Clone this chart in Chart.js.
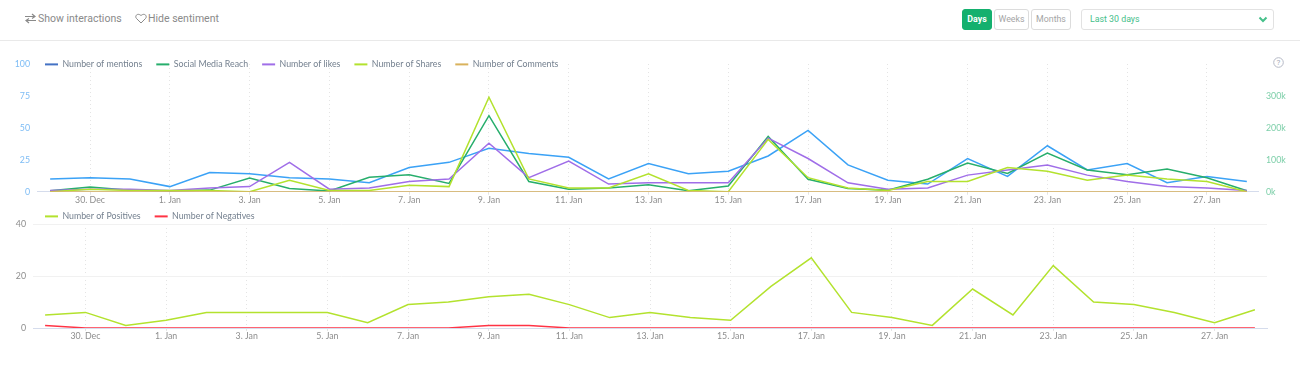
<!DOCTYPE html>
<html>
<head>
<meta charset="utf-8">
<title>Timeline</title>
<script src="https://cdn.jsdelivr.net/npm/chart.js@4/dist/chart.umd.min.js"></script>
<style>
    html, body { margin: 0; padding: 0; background: #fff; }
    body { width: 1300px; height: 367px; position: relative; overflow: hidden; font-family: Roboto, sans-serif; }
    .topo { position: absolute; left: 0; top: 0; width: 1300px; height: 40px; border-bottom: 1px solid #e9e9e9; }
    .acao { position: absolute; top: 12px; font-size: 10.5px; line-height: 14px; color: #8a8a8a; white-space: nowrap; }
    .acao svg { position: absolute; top: 1px; }
    .botao { position: absolute; top: 9px; height: 19px; line-height: 19px; border: 1px solid #dcdcdc; border-radius: 3px;
        font-size: 8.8px; text-align: center; color: #a5a5a5; }
    .botao.ativo { background: #14b06e; border-color: #14b06e; color: #fff; font-weight: bold; }
    .periodo { position: absolute; left: 1081px; top: 9px; width: 191px; height: 19px; line-height: 19px; border: 1px solid #e2e2e2;
        border-radius: 3px; font-size: 8.8px; color: #45c08a; }
    .periodo span { margin-left: 8px; }
    .periodo svg { position: absolute; right: 5px; top: 6px; }
    .ajuda { position: absolute; left: 1273px; top: 57px; }
    canvas { position: absolute; left: 0; }
    #graficoTopo { top: 40px; }
    #graficoBase { top: 205px; }
</style>
</head>
<body>
<div class="topo">
    <div class="acao" style="left:38px">
        <svg style="left:-13px" width="11" height="11" viewBox="0 0 11 11" fill="none" stroke="#8a8a8a" stroke-width="1.2"><path d="M0 3.5h9M7 1l3 2.5-3 2M11 7.5H2M4 5.5l-3 2 3 2.5"/></svg>
        Show interactions
    </div>
    <div class="acao" style="left:148px">
        <svg style="left:-13px" width="12" height="11" viewBox="0 0 12 11" fill="none" stroke="#8a8a8a" stroke-width="1"><path d="M6 10L1.4 5.4C-.6 3 2.6-.6 6 2.6 9.4-.6 12.6 3 10.6 5.4z"/></svg>
        Hide sentiment
    </div>
    <div class="botao ativo" style="left:962px;width:28px">Days</div>
    <div class="botao" style="left:994px;width:33px">Weeks</div>
    <div class="botao" style="left:1031px;width:38px">Months</div>
    <div class="periodo"><span>Last 30 days</span>
        <svg width="10" height="7" viewBox="0 0 10 7" fill="none" stroke="#45c08a" stroke-width="2"><path d="M1.5 1.5L5 5l3.5-3.5"/></svg>
    </div>
</div>
<svg class="ajuda" width="11" height="11" viewBox="0 0 11 11"><circle cx="5.5" cy="5.5" r="4.8" fill="none" stroke="#b5b9c6"/><text x="5.5" y="8.3" font-size="8" font-family="Roboto" text-anchor="middle" fill="#a5a9b6">?</text></svg>
<canvas id="graficoTopo" width="1300" height="165"></canvas>
<canvas id="graficoBase" width="1300" height="136"></canvas>

<script>
//Dias do eixo X (um rótulo por ponto)
const dias = [
    '29. Dec', '30. Dec', '31. Dec', '1. Jan', '2. Jan', '3. Jan', '4. Jan', '5. Jan',
    '6. Jan', '7. Jan', '8. Jan', '9. Jan', '10. Jan', '11. Jan', '12. Jan', '13. Jan',
    '14. Jan', '15. Jan', '16. Jan', '17. Jan', '18. Jan', '19. Jan', '20. Jan', '21. Jan',
    '22. Jan', '23. Jan', '24. Jan', '25. Jan', '26. Jan', '27. Jan', '28. Jan'
];

//Gráfico de cima
const mencoes = [10, 11, 10, 4, 15, 14, 11, 10, 7, 19, 23, 34, 30, 27, 10, 22, 14, 16, 28, 48, 21, 9, 6, 26, 12, 36, 17, 22, 7, 12, 8];
const alcance = [3, 15, 5, 2, 5, 43, 10, 2, 45, 53, 26, 238, 32, 8, 12, 22, 3, 18, 173, 39, 10, 5, 39, 90, 57, 121, 68, 53, 71, 44, 3];
const curtidas = [1, 2, 2, 1, 3, 4, 23, 2, 3, 8, 10, 38, 11, 24, 6, 7, 7, 7, 42, 26, 7, 2, 3, 13, 17, 21, 13, 8, 4, 3, 1];
const compartilhamentos = [0, 2, 1, 1, 1, 0, 9, 1, 1, 5, 4, 74, 10, 3, 3, 14, 1, 0, 41, 11, 3, 1, 8, 8, 19, 16, 9, 13, 10, 8, 0];
const comentarios = [0, 0, 0, 0, 0, 0, 0, 0, 0, 0, 0, 0, 0, 0, 0, 0, 0, 0, 0, 0, 0, 0, 0, 0, 0, 0, 0, 0, 0, 0, 0];

//Gráfico de baixo
const positivos = [5, 6, 1, 3, 6, 6, 6, 6, 2, 9, 10, 12, 13, 9, 4, 6, 4, 3, 16, 27, 6, 4, 1, 15, 5, 24, 10, 9, 6, 2, 7];
const negativos = [1, 0, 0, 0, 0, 0, 0, 0, 0, 0, 0, 1, 1, 0, 0, 0, 0, 0, 0, 0, 0, 0, 0, 0, 0, 0, 0, 0, 0, 0, 0];

//Marcas dos eixos Y
const ticksEsquerda = [0, 25, 50, 75, 100];
const ticksDireita = [0, 100, 200, 300];
const ticksBase = [0, 20, 40];

const fonte = { family: 'Lato', size: 8.8 };

//Cada série nova fica por cima da anterior
function serie(label, valores, cor, corLegenda, ordem, eixo) {
    return {
        label: label,
        data: valores.map((y, i) => ({ x: i, y: y })),
        borderColor: cor,
        backgroundColor: corLegenda,
        borderWidth: 1.5,
        pointRadius: 0,
        tension: 0,
        clip: 0,
        order: ordem,
        yAxisID: eixo || 'y'
    };
}

//Só os índices ímpares recebem rótulo (30. Dec, 1. Jan...)
function eixoX(min, max) {
    return {
        type: 'linear',
        min: min,
        max: max,
        afterBuildTicks: function (eixo) {
            eixo.ticks = dias.map((d, i) => ({ value: i })).filter(t => t.value % 2 === 1);
        },
        afterFit: function (eixo) { eixo.height = 13; },
        ticks: {
            autoSkip: false,
            maxRotation: 0,
            padding: 0,
            color: '#8d8d8d',
            font: fonte,
            callback: function (valor) { return dias[valor]; }
        },
        border: { display: true, color: '#d5dcec', dash: [1, 3] },
        grid: { color: '#e4e4e4', tickLength: 3, lineWidth: 1 }
    };
}

//A legenda fica em cima da área do gráfico e não ocupa espaço no layout
function legendaFixa(esquerda, topo) {
    return {
        id: 'legendaFixa',
        beforeLayout: function (chart) {
            const legenda = chart.legend;
            const fitOriginal = legenda.fit;
            legenda.fit = function () {
                fitOriginal.call(legenda);
                legenda.height = 0;
            };
        },
        afterLayout: function (chart) {
            chart.legend.left = esquerda;
            chart.legend.top = topo;
            chart.legend.bottom = topo + 40;
        }
    };
}

function legenda() {
    return {
        position: 'top',
        align: 'start',
        labels: {
            boxWidth: 13,
            boxHeight: 2,
            padding: 14,
            color: '#74808f',
            font: fonte,
            sort: (a, b) => a.datasetIndex - b.datasetIndex,
            generateLabels: function (chart) {
                return Chart.defaults.plugins.legend.labels.generateLabels(chart).map(function (item) {
                    item.lineWidth = 0;
                    return item;
                });
            }
        }
    };
}

function largura(px) {
    return function (eixo) { eixo.width = px; };
}

const elementoTopo = document.getElementById('graficoTopo');
const elementoBase = document.getElementById('graficoBase');

const graficoTopo = new Chart(elementoTopo, {
    type: 'line',
    data: {
        datasets: [
            serie('Number of mentions', mencoes, '#3ba2f6', '#4472c4', 5),
            serie('Social Media Reach', alcance, '#27ae6c', '#27ae6c', 4, 'y1'),
            serie('Number of likes', curtidas, '#a06ee8', '#a06ee8', 3),
            serie('Number of Shares', compartilhamentos, '#b3e22e', '#b3e22e', 2),
            serie('Number of Comments', comentarios, '#d9b25c', '#d9b25c', 1)
        ]
    },
    options: {
        responsive: false,
        animation: false,
        layout: { padding: { top: 24, bottom: 0 } },
        plugins: { legend: legenda(), tooltip: { enabled: false } },
        scales: {
            x: eixoX(-0.33, 30.28),
            y: {
                min: 0,
                max: 100,
                afterBuildTicks: function (eixo) { eixo.ticks = ticksEsquerda.map(v => ({ value: v })); },
                afterFit: largura(37),
                ticks: { color: '#7dbcf5', font: fonte, padding: 7 },
                border: { display: false },
                grid: { display: false, drawTicks: false }
            },
            y1: {
                position: 'right',
                min: 0,
                max: 400,
                afterBuildTicks: function (eixo) { eixo.ticks = ticksDireita.map(v => ({ value: v })); },
                afterFit: largura(42),
                ticks: { color: '#7dcfa9', font: fonte, padding: 8, callback: v => v + 'k' },
                border: { display: false },
                grid: { display: false, drawTicks: false }
            }
        }
    },
    plugins: [legendaFixa(31, 6)]
});

const graficoBase = new Chart(elementoBase, {
    type: 'line',
    data: {
        datasets: [
            serie('Number of Positives', positivos, '#b3e22e', '#b3e22e', 2),
            serie('Number of Negatives', negativos, '#ff3344', '#ff3344', 1)
        ]
    },
    options: {
        responsive: false,
        animation: false,
        layout: { padding: { top: 19, bottom: 0, right: 33 } },
        plugins: { legend: legenda(), tooltip: { enabled: false } },
        scales: {
            x: eixoX(-0.3, 30.3),
            y: {
                min: 0,
                max: 40,
                afterBuildTicks: function (eixo) { eixo.ticks = ticksBase.map(v => ({ value: v })); },
                afterFit: largura(33),
                ticks: { color: '#8d8d8d', font: fonte, padding: 7 },
                border: { display: false },
                grid: { color: '#f1f1f1', drawTicks: false }
            }
        }
    },
    plugins: [legendaFixa(31, -7)]
});
</script>
</body>
</html>
